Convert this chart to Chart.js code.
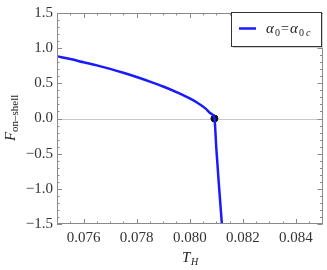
<!DOCTYPE html>
<html>
<head>
<meta charset="utf-8">
<script src="https://cdn.jsdelivr.net/npm/chart.js@4.4.1/dist/chart.umd.min.js"></script>
<style>
  html, body { margin: 0; padding: 0; background: #fff; }
  #wrap { width: 327px; height: 270px; }
</style>
</head>
<body>
<div id="wrap"><canvas id="myChart" width="327" height="270"></canvas></div>
<script>
// values
var tH = [0.0750, 0.0755, 0.0760, 0.0765, 0.0770, 0.0775, 0.0780, 0.0785, 0.0790, 0.0795,
          0.0800, 0.0803, 0.0806, 0.0808, 0.08093, 0.08100, 0.08110, 0.08121];
var fOnShell = [0.885, 0.845, 0.80, 0.755, 0.705, 0.65, 0.59, 0.525, 0.455, 0.375,
                0.285, 0.22, 0.14, 0.07, 0, -0.42, -0.95, -1.5];
var critT = [0.08093];
var critF = [0];
var xTicks = [0.076, 0.078, 0.080, 0.082, 0.084];
var yTicks = [-1.5, -1.0, -0.5, 0.0, 0.5, 1.0, 1.5];

var serif = "'Liberation Serif', 'DejaVu Serif', serif";

function fmt(v, d) {
  var s = Math.abs(v).toFixed(d);
  return (v < -1e-9 ? "\u2212" : "") + s;
}

var frame = {
  id: "frame",
  beforeDatasetsDraw: function(chart) {
    var ctx = chart.ctx, a = chart.chartArea;
    var y0 = chart.scales.y.getPixelForValue(0);
    ctx.save();
    ctx.strokeStyle = "#c8c8c8";
    ctx.lineWidth = 1;
    ctx.beginPath();
    ctx.moveTo(a.left, Math.round(y0) + 0.5);
    ctx.lineTo(a.right, Math.round(y0) + 0.5);
    ctx.stroke();
    ctx.restore();
  },
  afterDraw: function(chart) {
    var ctx = chart.ctx, a = chart.chartArea;
    var xs = chart.scales.x, ys = chart.scales.y;
    ctx.save();
    ctx.strokeStyle = "#8a8a8a";
    ctx.lineWidth = 1;
    ctx.strokeRect(Math.round(a.left) + 0.5, Math.round(a.top) + 0.5,
                   Math.round(a.right - a.left) - 1, Math.round(a.bottom - a.top) - 1);
    ctx.beginPath();
    // x ticks, inward on bottom and top
    for (var i = 0; i <= 20; i++) {
      var v = 0.075 + i * 0.0005;
      var px = Math.round(xs.getPixelForValue(v)) + 0.5;
      var major = (i % 4 === 2);
      var len = major ? 5 : 2.5;
      ctx.moveTo(px, a.bottom); ctx.lineTo(px, a.bottom - len);
      ctx.moveTo(px, a.top); ctx.lineTo(px, a.top + len);
    }
    // y ticks, inward on left and right
    for (var j = 0; j <= 30; j++) {
      var w = -1.5 + j * 0.1;
      var py = Math.round(ys.getPixelForValue(w)) + 0.5;
      var maj = (j % 5 === 0);
      var l2 = maj ? 5 : 2.5;
      ctx.moveTo(a.left, py); ctx.lineTo(a.left + l2, py);
      ctx.moveTo(a.right, py); ctx.lineTo(a.right - l2, py);
    }
    ctx.stroke();

    // axis titles
    ctx.fillStyle = "#222";
    ctx.textBaseline = "alphabetic";
    // x title T_H
    ctx.font = "italic 15px " + serif;
    ctx.fillText("T", 182, 262);
    ctx.font = "italic 10px " + serif;
    ctx.fillText("H", 191, 265);
    // y title F_on-shell
    ctx.save();
    ctx.translate(15, 141);
    ctx.rotate(-Math.PI / 2);
    ctx.font = "italic 15px " + serif;
    ctx.fillText("F", 0, 0);
    ctx.font = "11px " + serif;
    ctx.fillText("on\u2013shell", 9, 3);
    ctx.restore();

    // legend box
    var bx = 231, by = 12, bw = 90, bh = 34;
    ctx.fillStyle = "#d0d0d0";
    ctx.fillRect(bx + 2, by + 2, bw, bh);
    ctx.fillStyle = "#fff";
    ctx.fillRect(bx, by, bw, bh);
    ctx.strokeStyle = "#333";
    ctx.lineWidth = 1;
    ctx.strokeRect(bx + 0.5, by + 0.5, bw, bh);
    ctx.strokeStyle = "#1a1aff";
    ctx.lineWidth = 2.5;
    ctx.beginPath();
    ctx.moveTo(239, 28.5); ctx.lineTo(256, 28.5);
    ctx.stroke();
    ctx.fillStyle = "#222";
    ctx.font = "italic 15px " + serif;
    ctx.fillText("\u03b1", 266, 33);
    ctx.font = "10px " + serif;
    ctx.fillText("0", 275, 36);
    ctx.font = "14px " + serif;
    ctx.fillText("=", 281, 33);
    ctx.font = "italic 15px " + serif;
    ctx.fillText("\u03b1", 290, 33);
    ctx.font = "10px " + serif;
    ctx.fillText("0", 299, 36);
    ctx.font = "italic 10px " + serif;
    ctx.fillText("c", 306, 36);
    ctx.restore();
  }
};

var curve = tH.map(function(t, i) { return { x: t, y: fOnShell[i] }; });
var crit = critT.map(function(t, i) { return { x: t, y: critF[i] }; });

new Chart(document.getElementById("myChart"), {
  type: "scatter",
  data: {
    datasets: [{
      label: "\u03b10=\u03b10 c",
      data: curve,
      showLine: true,
      borderColor: "#1a1aff",
      borderWidth: 2.5,
      pointRadius: 0,
      cubicInterpolationMode: "monotone"
    }, {
      label: "critical",
      data: crit,
      pointRadius: 3.5,
      backgroundColor: "#111",
      borderColor: "#111",
      pointHoverRadius: 3.5
    }]
  },
  options: {
    responsive: false,
    animation: false,
    layout: { padding: { top: 10, right: 2, left: 0, bottom: 0 } },
    plugins: { legend: { display: false }, tooltip: { enabled: false } },
    scales: {
      x: {
        type: "linear",
        min: 0.075, max: 0.085,
        grid: { display: false, drawTicks: false },
        border: { display: false },
        afterBuildTicks: function(scale) {
          scale.ticks = xTicks.map(function(v) { return { value: v }; });
        },
        afterFit: function(scale) { scale.height = 46; },
        ticks: {
          color: "#333",
          padding: 5,
          maxRotation: 0,
          font: { family: serif, size: 15 },
          callback: function(v) { return fmt(v, 3); }
        }
      },
      y: {
        min: -1.5, max: 1.5,
        grid: { display: false, drawTicks: false },
        border: { display: false },
        afterBuildTicks: function(scale) {
          scale.ticks = yTicks.map(function(v) { return { value: v }; });
        },
        afterFit: function(scale) { scale.width = 57; },
        ticks: {
          color: "#333",
          padding: 4,
          font: { family: serif, size: 15 },
          callback: function(v) { return fmt(v, 1); }
        }
      }
    }
  },
  plugins: [frame]
});
</script>
</body>
</html>
